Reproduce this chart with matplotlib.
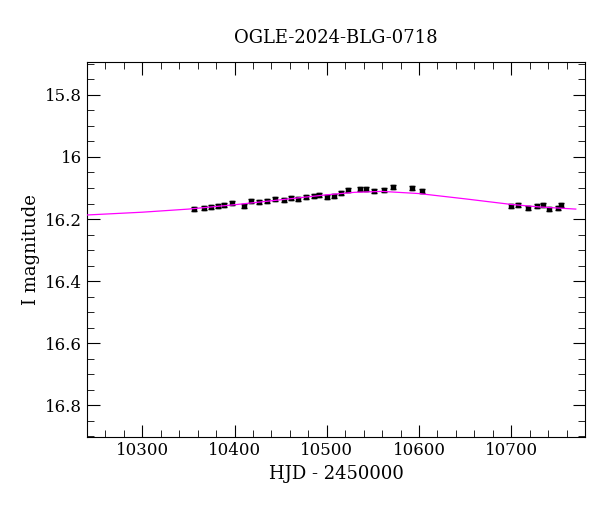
import matplotlib
matplotlib.use("Agg")
import matplotlib.pyplot as plt
from matplotlib.ticker import MultipleLocator

hjd = [10356,10367,10374,10382,10389,10397,10410,10418,10426,10435,10444,10454,10461,10469,10477,10486,10492,10500,10508,10515,10523,10536,10543,10551,10562,10572,10592,10603,10700,10707,10718,10728,10734,10741,10751,10754]
mag = [16.168,16.165,16.161,16.158,16.155,16.148,16.158,16.142,16.145,16.142,16.135,16.139,16.132,16.135,16.129,16.126,16.123,16.129,16.126,16.116,16.106,16.103,16.103,16.110,16.106,16.097,16.100,16.110,16.158,16.155,16.165,16.158,16.155,16.168,16.165,16.155]
err = [0.006]*len(hjd)
model_x = [10240,10300,10350,10400,10450,10500,10530,10560,10600,10650,10700,10730,10770]
model_y = [16.187,16.178,16.168,16.154,16.138,16.122,16.114,16.111,16.118,16.135,16.153,16.161,16.168]

plt.rcParams["font.family"] = "DejaVu Serif"
fig = plt.figure(figsize=(6, 5.12), dpi=100)
ax = fig.add_axes([0.145, 0.146, 0.83, 0.733])
ax.plot(model_x, model_y, color="magenta", lw=0.9, zorder=3)
ax.errorbar(hjd, mag, yerr=err, fmt="s", ms=3, color="black", ecolor="black", capsize=2, elinewidth=1, zorder=2)
ax.set_xlim(10240, 10780)
ax.set_ylim(16.903, 15.694)
ax.xaxis.set_major_locator(MultipleLocator(100))
ax.xaxis.set_minor_locator(MultipleLocator(20))
ax.yaxis.set_major_locator(MultipleLocator(0.2))
ax.yaxis.set_minor_locator(MultipleLocator(0.05))
ax.yaxis.set_major_formatter(plt.FuncFormatter(lambda v, p: f"{v:g}"))
ax.tick_params(which="both", direction="in", top=True, right=True, labelsize=12)
ax.tick_params(which="major", length=9)
ax.tick_params(which="minor", length=5)
ax.set_xlabel("HJD - 2450000", fontsize=13)
ax.set_ylabel("I magnitude", fontsize=13)
ax.set_title("OGLE-2024-BLG-0718", fontsize=13, pad=14)
fig.savefig("out.png")
